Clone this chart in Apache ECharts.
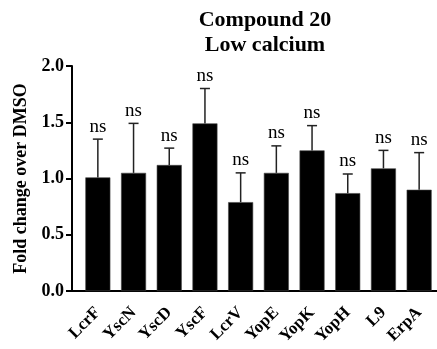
<!DOCTYPE html>
<html>
<head>
<meta charset="utf-8">
<script src="https://cdn.jsdelivr.net/npm/echarts@6/dist/echarts.min.js"></script>
<style>
  html, body { margin: 0; padding: 0; background: #fff; }
  #chart { width: 437px; height: 349px; }
</style>
</head>
<body>
<div id="chart"></div>
<script>
var genes = ['LcrF', 'YscN', 'YscD', 'YscF', 'LcrV', 'YopE', 'YopK', 'YopH', 'L9', 'ErpA'];
var foldMean = [1.01, 1.05, 1.12, 1.49, 0.79, 1.05, 1.25, 0.87, 1.09, 0.90];
var foldUpper = [1.35, 1.49, 1.27, 1.80, 1.05, 1.29, 1.47, 1.04, 1.25, 1.23];
var sigLabels = ['ns', 'ns', 'ns', 'ns', 'ns', 'ns', 'ns', 'ns', 'ns', 'ns'];
var yTicks = [0, 0.5, 1.0, 1.5, 2.0];

var serif = 'Liberation Serif';
var chart = echarts.init(document.getElementById('chart'));

var errData = genes.map(function (g, i) { return [i, foldMean[i], foldUpper[i]]; });

var option = {
    animation: false,
    title: {
        text: 'Compound 20\nLow calcium',
        left: 260,
        textAlign: 'center',
        top: 3,
        textStyle: { fontFamily: serif, fontWeight: 'bold', fontSize: 22, lineHeight: 25, color: '#000' }
    },
    grid: { left: 80, right: 0, top: 66, bottom: 58 },
    xAxis: {
        type: 'category',
        data: genes,
        axisLine: { lineStyle: { color: '#000', width: 2 } },
        axisTick: { alignWithLabel: true, length: 7, lineStyle: { color: '#000', width: 2 } },
        axisLabel: {
            rotate: 45, margin: 19, color: '#000',
            fontFamily: serif, fontWeight: 'bold', fontSize: 17
        }
    },
    yAxis: {
        type: 'value',
        min: yTicks[0],
        max: yTicks[yTicks.length - 1],
        interval: 0.5,
        offset: 8,
        name: 'Fold change over DMSO',
        nameLocation: 'middle',
        nameGap: 40,
        nameTextStyle: { fontFamily: serif, fontWeight: 'bold', fontSize: 18, color: '#000' },
        splitLine: { show: false },
        axisLine: { show: true, lineStyle: { color: '#000', width: 2 } },
        axisTick: { show: true, length: 6, lineStyle: { color: '#000', width: 2 } },
        axisLabel: {
            margin: 8, color: '#000', fontFamily: serif, fontWeight: 'bold', fontSize: 18,
            formatter: function (v) { return v.toFixed(1); }
        }
    },
    graphic: [{
        type: 'line',
        shape: { x1: 70, y1: 291, x2: 81, y2: 291 },
        style: { stroke: '#000', lineWidth: 2 }
    }],
    series: [{
        type: 'bar',
        data: foldMean,
        barWidth: 25,
        itemStyle: { color: '#000', borderColor: '#444', borderWidth: 0.6 }
    }, {
        type: 'custom',
        data: errData,
        z: 5,
        renderItem: function (params, api) {
            var i = api.value(0);
            var base = api.coord([i, api.value(1)]);
            var top = api.coord([i, api.value(2)]);
            var cap = 5;
            var st = { stroke: '#222', lineWidth: 1.5 };
            return {
                type: 'group',
                children: [
                    { type: 'line', shape: { x1: base[0], y1: base[1], x2: top[0], y2: top[1] }, style: st },
                    { type: 'line', shape: { x1: top[0] - cap, y1: top[1], x2: top[0] + cap, y2: top[1] }, style: st },
                    {
                        type: 'text',
                        style: {
                            x: top[0], y: top[1] - 3, text: sigLabels[i],
                            align: 'center', verticalAlign: 'bottom',
                            fontFamily: serif, fontSize: 19, fill: '#000'
                        }
                    }
                ]
            };
        }
    }]
};

chart.setOption(option);
</script>
</body>
</html>
